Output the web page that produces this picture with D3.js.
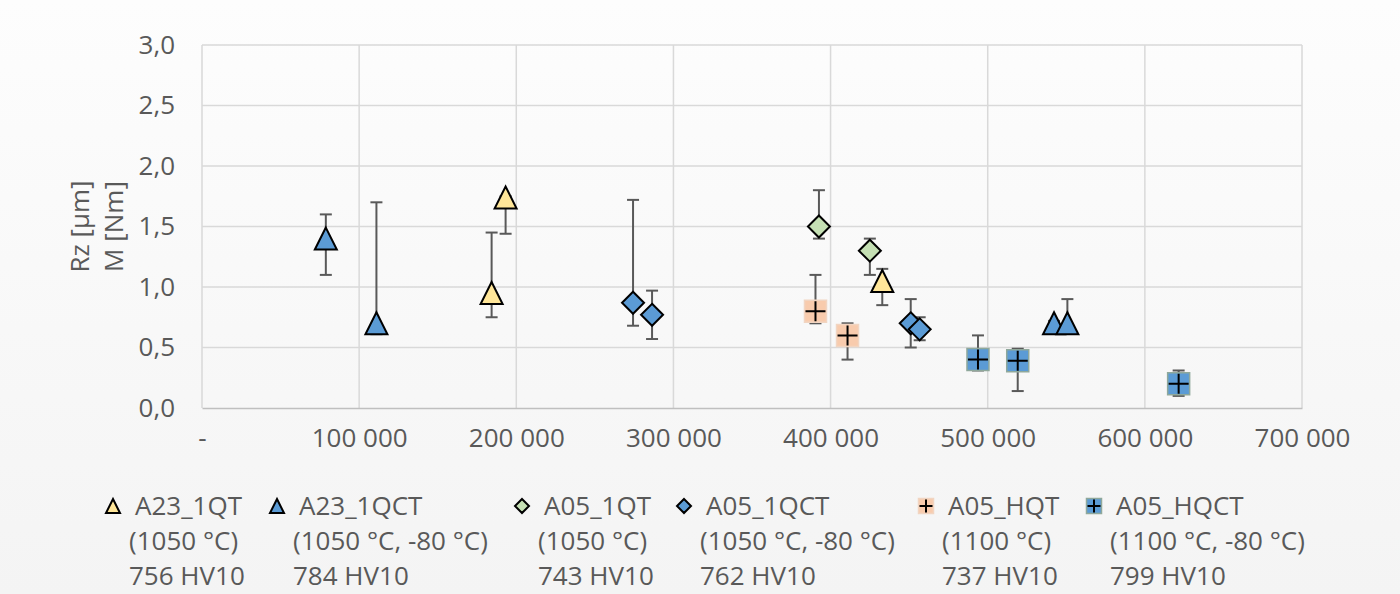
<!DOCTYPE html>
<html>
<head>
<meta charset="utf-8">
<script src="https://cdn.jsdelivr.net/npm/d3@7"></script>
<style>
	body { margin: 0; background: #fafafa; }
	text { font-family: "Open Sans", "Noto Sans", sans-serif; fill: #595959; }
</style>
</head>
<body>
<div id="chart-area"></div>
<script>
// ticks
const xTicks = [0, 100000, 200000, 300000, 400000, 500000, 600000, 700000]
const yTicks = [0, 0.5, 1.0, 1.5, 2.0, 2.5, 3.0]

// series names + legend lines
const seriesNames = ["A23_1QT", "A23_1QCT", "A05_1QT", "A05_1QCT", "A05_HQT", "A05_HQCT"]
const seriesTemps = ["(1050 °C)", "(1050 °C, -80 °C)", "(1050 °C)", "(1050 °C, -80 °C)", "(1100 °C)", "(1100 °C, -80 °C)"]
const seriesHardness = ["756 HV10", "784 HV10", "743 HV10", "762 HV10", "737 HV10", "799 HV10"]

// x = load cycles, y = value, hi/lo = error bar ends
const a23_1qt_x = [184300, 193200, 432900]
const a23_1qt_y = [0.95, 1.74, 1.05]
const a23_1qt_hi = [1.45, 1.75, 1.15]
const a23_1qt_lo = [0.75, 1.44, 0.85]

const a23_1qct_x = [78800, 111000, 542200, 550700]
const a23_1qct_y = [1.40, 0.70, 0.70, 0.70]
const a23_1qct_hi = [1.60, 1.70, 0.72, 0.90]
const a23_1qct_lo = [1.10, 0.61, 0.65, 0.65]

const a05_1qt_x = [392600, 425000]
const a05_1qt_y = [1.50, 1.30]
const a05_1qt_hi = [1.80, 1.40]
const a05_1qt_lo = [1.40, 1.10]

const a05_1qct_x = [274300, 286400, 451000, 456700]
const a05_1qct_y = [0.87, 0.77, 0.70, 0.65]
const a05_1qct_hi = [1.72, 0.97, 0.90, 0.75]
const a05_1qct_lo = [0.68, 0.57, 0.50, 0.56]

const a05_hqt_x = [390400, 410800]
const a05_hqt_y = [0.80, 0.60]
const a05_hqt_hi = [1.10, 0.70]
const a05_hqt_lo = [0.70, 0.40]

const a05_hqct_x = [493800, 519100, 621500]
const a05_hqct_y = [0.40, 0.39, 0.20]
const a05_hqct_hi = [0.60, 0.49, 0.31]
const a05_hqct_lo = [0.31, 0.14, 0.10]

// styling per series
const styles = [
	{ shape: "triangle", fill: "#FFE699", stroke: "#000" },
	{ shape: "triangle", fill: "#5B9BD5", stroke: "#000" },
	{ shape: "diamond", fill: "#C5E0B4", stroke: "#000" },
	{ shape: "diamond", fill: "#5B9BD5", stroke: "#000" },
	{ shape: "plus", fill: "#F8CBAD", stroke: "#F1D5C2" },
	{ shape: "plus", fill: "#5B9BD5", stroke: "#8FA89B" }
]

const raw = [
	[a23_1qt_x, a23_1qt_y, a23_1qt_hi, a23_1qt_lo],
	[a23_1qct_x, a23_1qct_y, a23_1qct_hi, a23_1qct_lo],
	[a05_1qt_x, a05_1qt_y, a05_1qt_hi, a05_1qt_lo],
	[a05_1qct_x, a05_1qct_y, a05_1qct_hi, a05_1qct_lo],
	[a05_hqt_x, a05_hqt_y, a05_hqt_hi, a05_hqt_lo],
	[a05_hqct_x, a05_hqct_y, a05_hqct_hi, a05_hqct_lo]
]
const series = raw.map((s, i) => ({
	name: seriesNames[i],
	style: styles[i],
	points: s[0].map((x, j) => ({ x: x, y: s[1][j], hi: s[2][j], lo: s[3][j] }))
}))

const width = 1400, height = 594
const plot = { left: 202, right: 1302, top: 45, bottom: 408 }
const fontSize = "26px"

const svg = d3.select("#chart-area").append("svg")
	.attr("width", width)
	.attr("height", height)

// soft background like the office chart area
const grad = svg.append("defs").append("linearGradient")
	.attr("id", "bg").attr("x1", 0).attr("y1", 0).attr("x2", 0).attr("y2", 1)
grad.append("stop").attr("offset", "0%").attr("stop-color", "#fdfdfd")
grad.append("stop").attr("offset", "100%").attr("stop-color", "#f4f4f4")
svg.append("rect").attr("width", width).attr("height", height).attr("fill", "url(#bg)")

const x = d3.scaleLinear().domain([0, 700000]).range([plot.left, plot.right])
const y = d3.scaleLinear().domain([0, 3]).range([plot.bottom, plot.top])

// gridlines
svg.append("g").selectAll("line").data(yTicks.slice(1)).enter().append("line")
	.attr("x1", plot.left).attr("x2", plot.right)
	.attr("y1", d => y(d)).attr("y2", d => y(d))
	.attr("stroke", "#d9d9d9").attr("stroke-width", 1.5)
svg.append("g").selectAll("line").data(xTicks).enter().append("line")
	.attr("x1", d => x(d)).attr("x2", d => x(d))
	.attr("y1", plot.top).attr("y2", plot.bottom)
	.attr("stroke", "#d9d9d9").attr("stroke-width", 1.5)

// axes (only labels + baseline)
const fmtY = d => d3.format(".1f")(d).replace(".", ",")
const fmtX = d => d === 0 ? "-" : d3.format(",")(d).replace(/,/g, " ")

const yAxis = svg.append("g")
	.attr("transform", `translate(${plot.left},0)`)
	.call(d3.axisLeft(y).tickValues(yTicks).tickFormat(fmtY).tickSize(0).tickPadding(27))
yAxis.select(".domain").remove()
yAxis.selectAll("text").style("font-size", fontSize).attr("fill", "#595959")

const xAxis = svg.append("g")
	.attr("transform", `translate(0,${plot.bottom})`)
	.call(d3.axisBottom(x).tickValues(xTicks).tickFormat(fmtX).tickSize(0).tickPadding(21))
xAxis.select(".domain").attr("stroke", "#bfbfbf").attr("stroke-width", 1.5)
xAxis.selectAll("text").style("font-size", fontSize).attr("fill", "#595959")

// y title, two rotated lines
const yTitle = ["Rz [µm]", "M [Nm]"]
svg.selectAll(".ytitle").data(yTitle).enter().append("text")
	.attr("class", "ytitle")
	.attr("transform", (d, i) => `translate(${89 + i * 34},${(plot.top + plot.bottom) / 2}) rotate(-90)`)
	.attr("text-anchor", "middle")
	.style("font-size", fontSize)
	.text(d => d)

// marker path around (cx, cy), s = full size
function markerPath(shape, cx, cy, s) {
	const h = s / 2
	if (shape === "triangle") return `M${cx},${cy - h}L${cx + h},${cy + h}L${cx - h},${cy + h}Z`
	if (shape === "diamond") return `M${cx},${cy - h}L${cx + h},${cy}L${cx},${cy + h}L${cx - h},${cy}Z`
	return `M${cx - h},${cy - h}H${cx + h}V${cy + h}H${cx - h}Z`
}

function drawMarker(g, st, cx, cy, s) {
	g.append("path")
		.attr("d", markerPath(st.shape, cx, cy, s))
		.attr("fill", st.fill)
		.attr("stroke", st.stroke)
		.attr("stroke-width", st.shape === "plus" ? 1.5 : 2)
		.attr("stroke-linejoin", "miter")
	if (st.shape === "plus") { // black cross over the square
		const h = s / 2 - 1
		g.append("path")
			.attr("d", `M${cx - h},${cy}H${cx + h}M${cx},${cy - h}V${cy + h}`)
			.attr("stroke", "#000").attr("stroke-width", 2)
	}
}

// error bars + markers per series
series.forEach(s => {
	const g = svg.append("g")
	s.points.forEach(p => {
		const cx = x(p.x)
		g.append("line")
			.attr("x1", cx).attr("x2", cx)
			.attr("y1", y(p.hi)).attr("y2", y(p.lo))
			.attr("stroke", "#595959").attr("stroke-width", 2)
		g.selectAll(null).data([p.hi, p.lo]).enter().append("line")
			.attr("x1", cx - 6).attr("x2", cx + 6)
			.attr("y1", d => y(d)).attr("y2", d => y(d))
			.attr("stroke", "#595959").attr("stroke-width", 2)
	})
	s.points.forEach(p => drawMarker(g, s.style, x(p.x), y(p.y), 22))
})

// legend
const legendX = [113, 277, 522, 684, 926, 1094]
const legend = svg.append("g")
series.forEach((s, i) => {
	const lx = legendX[i]
	drawMarker(legend, s.style, lx, 506, s.style.shape === "plus" ? 15 : 14)
	const lines = [s.name, seriesTemps[i], seriesHardness[i]]
	lines.forEach((t, j) => {
		legend.append("text")
			.attr("x", j === 0 ? lx + 22 : lx + 16)
			.attr("y", 515 + j * 35)
			.style("font-size", fontSize)
			.text(t)
	})
})
</script>
</body>
</html>
